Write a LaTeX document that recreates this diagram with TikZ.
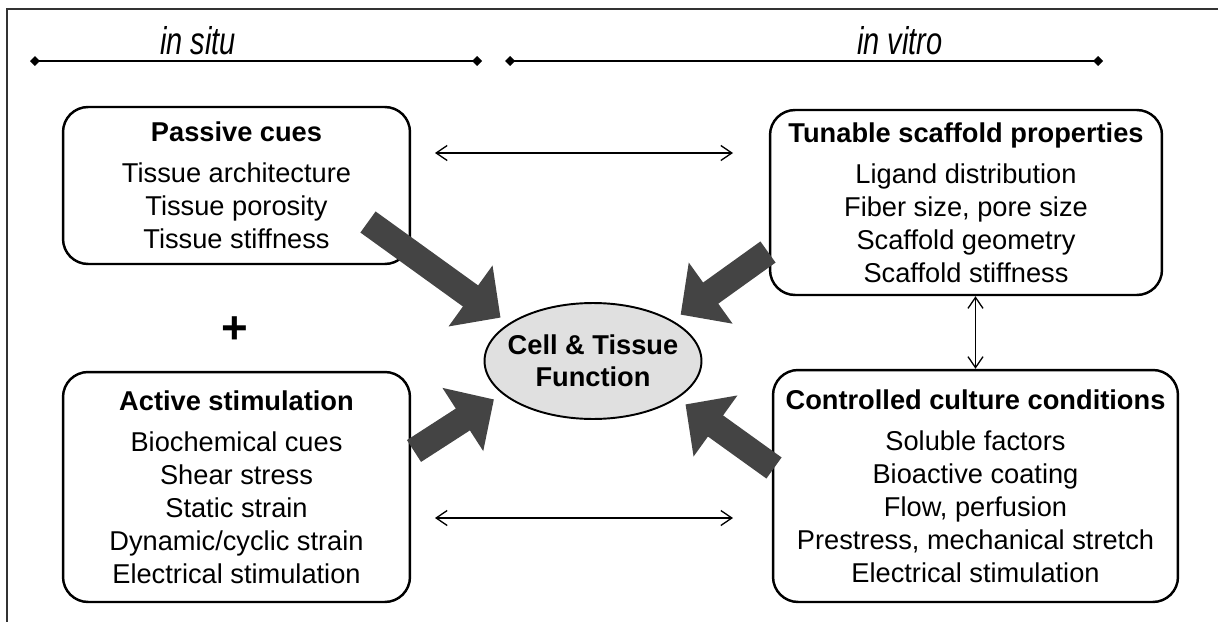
\documentclass[tikz,border=0pt]{standalone}
\usepackage{fontspec}
\setmainfont{Liberation Sans}
\usetikzlibrary{arrows.meta,shapes.geometric}
\definecolor{arrowgray}{HTML}{444444}
\definecolor{cellgray}{HTML}{E0E0E0}
\newcommand{\sitelabel}[1]{\scalebox{0.75}[1]{\fontsize{22}{22}\selectfont\itshape #1}}

\begin{document}
\begin{tikzpicture}[x=0.02cm, y=-0.02cm,
    every node/.style={font=\fontsize{15.5}{18.8}\selectfont},
    cuebox/.style={draw, line width=1.4pt, rounded corners=0.5cm, align=center, inner sep=0pt},
    rangeline/.style={line width=1.1pt, {Diamond[length=0.2cm,width=0.2cm]}-{Diamond[length=0.2cm,width=0.2cm]}},
    link/.style={line width=0.75pt, {Straight Barb[length=0.22cm,width=0.3cm]}-{Straight Barb[length=0.22cm,width=0.3cm]}},
    bigarrow/.style={arrowgray, line width=0.52cm, -{Triangle[length=0.74cm,width=1.46cm]}, shorten >=0.2cm}]
    \useasboundingbox (0,0) rectangle (1218,622);
    \draw[line width=1.5pt, black!80] (7,622) -- (7,9) -- (1218,9);

    % in situ / in vitro
    \draw[rangeline] (30,61) -- (482,61);
    \draw[rangeline] (505,61) -- (1103,61);
    \node[anchor=base, inner sep=0pt] (situ) at (198,54) {\sitelabel{in situ}};
    \node[anchor=base, inner sep=0pt] (vitro) at (900,54) {\sitelabel{in vitro}};

    % boxes
    \node[cuebox, minimum width=6.94cm, minimum height=3.14cm] (passive) at (236.5,185.5)
        {\textbf{Passive cues}\\[0.16cm] Tissue architecture\\ Tissue porosity\\ Tissue stiffness};
    \node[cuebox, minimum width=7.84cm, minimum height=3.7cm] (tunable) at (966,202.5)
        {\textbf{Tunable scaffold properties}\\[0.16cm] Ligand distribution\\ Fiber size, pore size\\ Scaffold geometry\\ Scaffold stiffness};
    \node[cuebox, minimum width=6.94cm, minimum height=4.6cm] (active) at (236.5,487)
        {\textbf{Active stimulation}\\[0.16cm] Biochemical cues\\ Shear stress\\ Static strain\\ Dynamic/cyclic strain\\ Electrical stimulation};
    \node[cuebox, minimum width=8.1cm, minimum height=4.64cm] (culture) at (975.5,486)
        {\textbf{Controlled culture conditions}\\[0.16cm] Soluble factors\\ Bioactive coating\\ Flow, perfusion\\ Prestress, mechanical stretch\\ Electrical stimulation};
    \node[ellipse, draw, line width=1.1pt, fill=cellgray, minimum width=4.34cm, minimum height=2.32cm,
        inner xsep=-0.2cm, inner ysep=0pt, align=center, font=\fontsize{15.5}{18.2}\selectfont\bfseries] (cell) at (593,361)
        {Cell \& Tissue\\ Function};
    \node[font=\fontsize{26}{26}\selectfont\bfseries] (plus) at (235,330) {+};

    % links
    \coordinate (ptop) at (435,153);
    \coordinate (ttop) at (733,153);
    \coordinate (abot) at (435,518);
    \coordinate (cbot) at (733,518);
    \draw[link] (ptop) -- (ttop);
    \draw[link] (abot) -- (cbot);
    \draw[link] (tunable.south -| culture.north) -- (culture.north);

    % thick arrows
    \coordinate (p1) at (368,222);
    \coordinate (p2) at (768,252);
    \coordinate (p3) at (414,451);
    \coordinate (p4) at (774,468);
    \draw[bigarrow] (p1) -- (cell.156);
    \draw[bigarrow] (p2) -- (cell.27);
    \draw[bigarrow] (p3) -- (cell.200);
    \draw[bigarrow] (p4) -- (cell.336);
\end{tikzpicture}
\end{document}
